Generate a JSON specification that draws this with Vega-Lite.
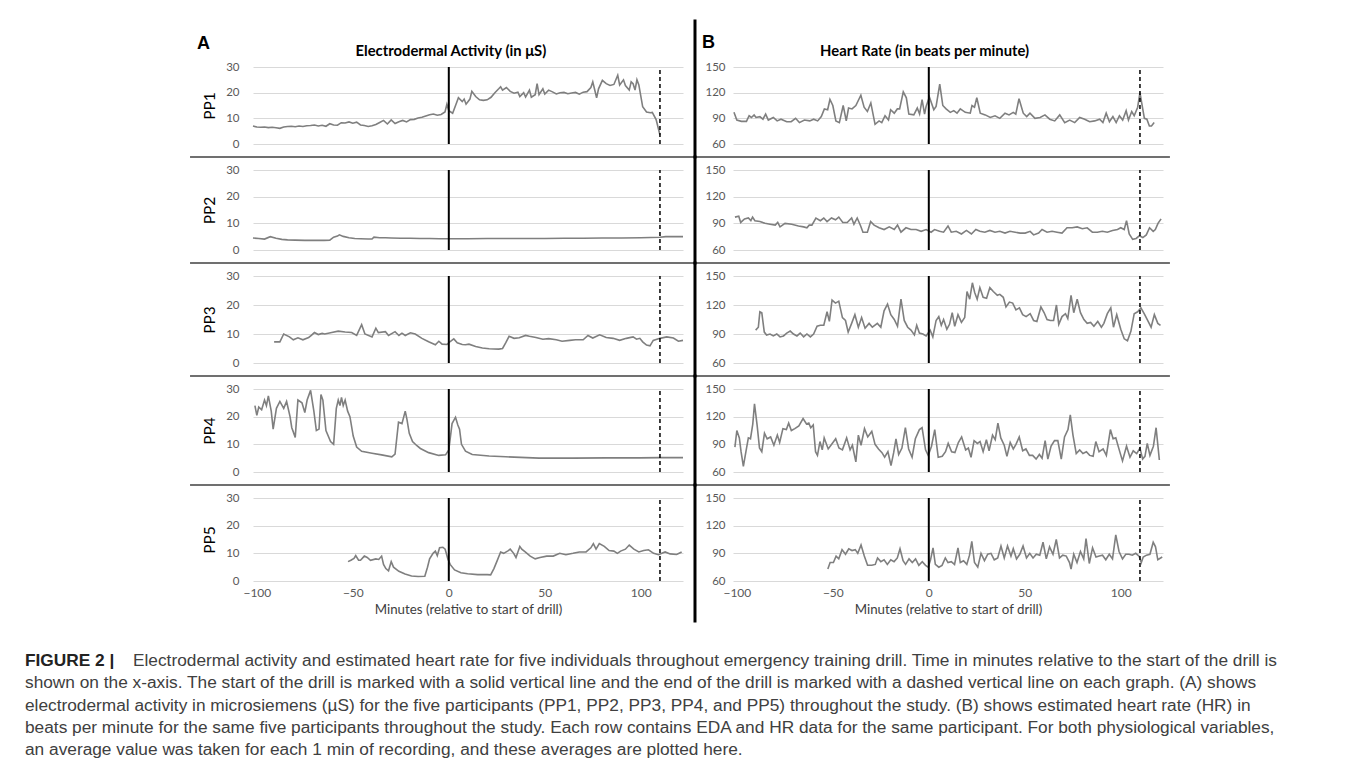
{
  "$schema": "https://vega.github.io/schema/vega-lite/v6.json",
  "autosize": {"type": "pad"},
  "padding": {"left": 25, "top": 18, "right": 5, "bottom": 5},
  "background": "white",
  "datasets": {
    "e1": [{"t":-102,"v":7.0},{"t":-100,"v":6.6},{"t":-98,"v":6.5},{"t":-96,"v":6.6},{"t":-94,"v":6.4},{"t":-92,"v":6.5},{"t":-90,"v":6.3},{"t":-88,"v":6.1},{"t":-86,"v":6.6},{"t":-84,"v":6.8},{"t":-82,"v":6.9},{"t":-80,"v":6.7},{"t":-78,"v":7.0},{"t":-76,"v":6.8},{"t":-74,"v":7.1},{"t":-72,"v":7.2},{"t":-70,"v":7.4},{"t":-68,"v":7.0},{"t":-66,"v":7.3},{"t":-64,"v":6.9},{"t":-62,"v":7.9},{"t":-60,"v":7.4},{"t":-58,"v":7.3},{"t":-56,"v":8.3},{"t":-54,"v":8.2},{"t":-52,"v":8.6},{"t":-50,"v":8.1},{"t":-48,"v":8.5},{"t":-46,"v":7.4},{"t":-44,"v":7.2},{"t":-42,"v":6.8},{"t":-40,"v":7.1},{"t":-38,"v":7.6},{"t":-36,"v":8.4},{"t":-34,"v":9.2},{"t":-32,"v":7.8},{"t":-30,"v":9.4},{"t":-28,"v":8.0},{"t":-26,"v":8.7},{"t":-24,"v":9.2},{"t":-22,"v":8.6},{"t":-20,"v":9.5},{"t":-18,"v":9.6},{"t":-16,"v":10.1},{"t":-14,"v":10.4},{"t":-12,"v":10.9},{"t":-10,"v":11.4},{"t":-8,"v":11.7},{"t":-6,"v":11.2},{"t":-4,"v":11.5},{"t":-2,"v":12.5},{"t":-1,"v":15.5},{"t":0,"v":13},{"t":2,"v":12},{"t":4,"v":16},{"t":5,"v":18},{"t":7,"v":16.5},{"t":8,"v":17.5},{"t":9,"v":15.5},{"t":11,"v":17.5},{"t":12,"v":20.5},{"t":14,"v":18.5},{"t":16,"v":17.2},{"t":18,"v":17.0},{"t":20,"v":17.2},{"t":22,"v":18.2},{"t":24,"v":20.0},{"t":26,"v":21.5},{"t":27,"v":22.3},{"t":28,"v":21.0},{"t":30,"v":22.0},{"t":32,"v":20.5},{"t":34,"v":19.8},{"t":36,"v":20.2},{"t":37,"v":18.5},{"t":39,"v":20.0},{"t":40,"v":18.3},{"t":42,"v":21.0},{"t":43,"v":18.2},{"t":45,"v":19.2},{"t":46,"v":23.5},{"t":47,"v":19.2},{"t":49,"v":21.5},{"t":50,"v":19.5},{"t":52,"v":21.0},{"t":54,"v":20.3},{"t":56,"v":19.5},{"t":58,"v":20.0},{"t":60,"v":20.1},{"t":62,"v":19.6},{"t":64,"v":19.9},{"t":66,"v":20.1},{"t":68,"v":19.4},{"t":70,"v":20.2},{"t":72,"v":20.4},{"t":74,"v":22.0},{"t":75,"v":24.2},{"t":77,"v":18.0},{"t":78,"v":21.5},{"t":80,"v":24.8},{"t":82,"v":23.5},{"t":84,"v":22.8},{"t":86,"v":23.2},{"t":88,"v":26.8},{"t":89,"v":23.0},{"t":91,"v":25.0},{"t":92,"v":22.8},{"t":94,"v":21.0},{"t":95,"v":24.2},{"t":96,"v":23.5},{"t":97,"v":21.0},{"t":98,"v":25.0},{"t":99,"v":23.0},{"t":101,"v":14.5},{"t":103,"v":12.5},{"t":105,"v":12.2},{"t":106,"v":12.3},{"t":108,"v":9.5},{"t":110,"v":3.5}],
    "e2": [{"t":-102,"v":4.5},{"t":-99,"v":4.3},{"t":-96,"v":4.1},{"t":-93,"v":5.0},{"t":-90,"v":4.4},{"t":-87,"v":4.0},{"t":-84,"v":3.8},{"t":-80,"v":3.7},{"t":-75,"v":3.6},{"t":-70,"v":3.6},{"t":-65,"v":3.6},{"t":-62,"v":3.7},{"t":-60,"v":4.8},{"t":-58,"v":5.2},{"t":-57,"v":5.7},{"t":-55,"v":5.1},{"t":-52,"v":4.6},{"t":-49,"v":4.3},{"t":-46,"v":4.2},{"t":-42,"v":4.1},{"t":-40,"v":4.1},{"t":-39,"v":4.8},{"t":-36,"v":4.6},{"t":-33,"v":4.6},{"t":-30,"v":4.5},{"t":-25,"v":4.4},{"t":-20,"v":4.4},{"t":-15,"v":4.3},{"t":-10,"v":4.3},{"t":-5,"v":4.2},{"t":0,"v":4.2},{"t":10,"v":4.2},{"t":20,"v":4.3},{"t":30,"v":4.3},{"t":40,"v":4.3},{"t":50,"v":4.3},{"t":60,"v":4.4},{"t":70,"v":4.4},{"t":80,"v":4.5},{"t":90,"v":4.5},{"t":100,"v":4.6},{"t":105,"v":4.7},{"t":110,"v":4.8},{"t":113,"v":5.0},{"t":118,"v":5.0},{"t":122,"v":5.0}],
    "e3": [{"t":-91,"v":7.3},{"t":-88,"v":7.3},{"t":-86,"v":10.0},{"t":-83,"v":9.0},{"t":-81,"v":8.0},{"t":-78.6,"v":8.7},{"t":-76,"v":8.0},{"t":-73,"v":8.8},{"t":-71.6,"v":9.5},{"t":-70,"v":10.5},{"t":-68,"v":9.8},{"t":-66,"v":10.2},{"t":-64.6,"v":10.0},{"t":-61,"v":10.5},{"t":-57.6,"v":11.0},{"t":-54,"v":10.7},{"t":-50.6,"v":10.5},{"t":-48,"v":9.5},{"t":-45.4,"v":13.2},{"t":-43.7,"v":10.0},{"t":-40,"v":9.0},{"t":-38,"v":12.0},{"t":-36.7,"v":10.5},{"t":-33,"v":10.8},{"t":-31.4,"v":9.5},{"t":-28,"v":10.8},{"t":-26,"v":9.5},{"t":-24.4,"v":10.3},{"t":-22.7,"v":9.5},{"t":-20,"v":10.4},{"t":-17.5,"v":10.0},{"t":-14,"v":8.5},{"t":-10.5,"v":7.3},{"t":-7,"v":6.3},{"t":-5.2,"v":7.5},{"t":-3.5,"v":6.5},{"t":-0.9,"v":6.4},{"t":0.9,"v":7.5},{"t":2.6,"v":8.3},{"t":4.4,"v":7.0},{"t":7,"v":6.4},{"t":8.7,"v":6.3},{"t":10.5,"v":6.5},{"t":14,"v":5.7},{"t":17.5,"v":5.2},{"t":21,"v":4.9},{"t":26,"v":4.8},{"t":28,"v":5.0},{"t":29.7,"v":7.0},{"t":31.4,"v":9.2},{"t":34,"v":8.5},{"t":36.7,"v":8.7},{"t":40,"v":9.5},{"t":42,"v":9.2},{"t":45.4,"v":8.8},{"t":49,"v":8.2},{"t":52,"v":8.4},{"t":56,"v":8.0},{"t":59,"v":7.5},{"t":63,"v":7.8},{"t":66,"v":8.0},{"t":70,"v":8.0},{"t":72.5,"v":9.5},{"t":75,"v":8.6},{"t":78.6,"v":9.7},{"t":82,"v":8.8},{"t":85.6,"v":8.5},{"t":89,"v":7.8},{"t":92.5,"v":8.5},{"t":96,"v":9.0},{"t":97.8,"v":8.2},{"t":99.5,"v":8.5},{"t":101,"v":7.3},{"t":103,"v":6.2},{"t":104.8,"v":5.9},{"t":106.5,"v":7.8},{"t":110,"v":8.5},{"t":113.5,"v":9.0},{"t":117,"v":8.6},{"t":119.6,"v":7.5},{"t":122,"v":7.8}],
    "e4": [{"t":-101,"v":24},{"t":-100,"v":20.5},{"t":-99,"v":23.5},{"t":-97.5,"v":22.5},{"t":-96,"v":26},{"t":-95,"v":24},{"t":-94,"v":27.5},{"t":-92.5,"v":22},{"t":-91.5,"v":15.5},{"t":-89.8,"v":23},{"t":-88,"v":25.5},{"t":-86,"v":23},{"t":-84.5,"v":25.5},{"t":-82.7,"v":20},{"t":-81.8,"v":16},{"t":-81,"v":14.5},{"t":-80,"v":12.5},{"t":-78.6,"v":26},{"t":-76.5,"v":25},{"t":-75,"v":21.5},{"t":-73.8,"v":26},{"t":-72,"v":29.5},{"t":-70.3,"v":22},{"t":-69,"v":15},{"t":-67.6,"v":15.5},{"t":-66.6,"v":28},{"t":-65.6,"v":26},{"t":-64,"v":15},{"t":-61.6,"v":11},{"t":-60,"v":10},{"t":-58.6,"v":23},{"t":-57.6,"v":26},{"t":-56.7,"v":24},{"t":-55.9,"v":27},{"t":-55,"v":24},{"t":-54,"v":26},{"t":-52.7,"v":22},{"t":-51.5,"v":20},{"t":-49.8,"v":13},{"t":-48,"v":9},{"t":-45.4,"v":7.5},{"t":-40,"v":6.8},{"t":-35,"v":6.2},{"t":-29.7,"v":5.5},{"t":-28,"v":6.5},{"t":-26.2,"v":18},{"t":-24.4,"v":17.5},{"t":-22.7,"v":22},{"t":-21.8,"v":19},{"t":-20.6,"v":14},{"t":-18.9,"v":11},{"t":-16.6,"v":9.5},{"t":-14.8,"v":8.5},{"t":-10.5,"v":7},{"t":-5.2,"v":6},{"t":-1.7,"v":6.2},{"t":0,"v":8},{"t":1.7,"v":17.5},{"t":3.5,"v":19.8},{"t":4.7,"v":17},{"t":5.6,"v":15.5},{"t":6.6,"v":10},{"t":8.7,"v":7.5},{"t":12.2,"v":6.3},{"t":21,"v":5.8},{"t":29.7,"v":5.5},{"t":47,"v":5.0},{"t":64.6,"v":5.0},{"t":82,"v":5.1},{"t":99.5,"v":5.1},{"t":110,"v":5.2},{"t":122,"v":5.2}],
    "e5": [{"t":-52.5,"v":7.0},{"t":-51,"v":7.5},{"t":-49.4,"v":8.2},{"t":-48.5,"v":9.2},{"t":-47,"v":7.5},{"t":-46,"v":7.5},{"t":-44,"v":9.0},{"t":-42.5,"v":8.5},{"t":-40.8,"v":7.5},{"t":-38,"v":8.0},{"t":-36.5,"v":7.8},{"t":-35,"v":9.0},{"t":-34,"v":6.0},{"t":-32.8,"v":4.5},{"t":-31.4,"v":3.7},{"t":-30,"v":7.0},{"t":-28.8,"v":5.0},{"t":-26,"v":3.5},{"t":-22.8,"v":2.5},{"t":-19.4,"v":1.8},{"t":-16,"v":1.6},{"t":-12.5,"v":1.7},{"t":-11.1,"v":5.0},{"t":-10,"v":8.0},{"t":-8.2,"v":10.0},{"t":-7,"v":10.8},{"t":-6,"v":9.2},{"t":-4.8,"v":12.0},{"t":-3.1,"v":12.2},{"t":-1.9,"v":11.5},{"t":-0.5,"v":8.0},{"t":0.7,"v":6.0},{"t":3,"v":4.0},{"t":6.3,"v":3.0},{"t":9.8,"v":2.6},{"t":15,"v":2.3},{"t":20,"v":2.3},{"t":21.8,"v":2.2},{"t":23.5,"v":4.5},{"t":25,"v":7.0},{"t":27,"v":10.5},{"t":28.6,"v":10.0},{"t":31,"v":11.0},{"t":32,"v":11.5},{"t":33.8,"v":10.0},{"t":35,"v":8.5},{"t":37,"v":12.5},{"t":38,"v":11.5},{"t":39.8,"v":10.5},{"t":42.4,"v":9.0},{"t":45,"v":8.0},{"t":47.5,"v":8.5},{"t":51,"v":9.0},{"t":54.4,"v":9.0},{"t":57.8,"v":10.0},{"t":61,"v":9.5},{"t":64.7,"v":10.0},{"t":68,"v":10.5},{"t":71.5,"v":10.5},{"t":74,"v":12.0},{"t":75.3,"v":13.5},{"t":76.7,"v":11.5},{"t":78.4,"v":13.5},{"t":81,"v":12.5},{"t":83.5,"v":11.0},{"t":86,"v":10.8},{"t":87.8,"v":10.0},{"t":89.5,"v":10.8},{"t":92,"v":11.5},{"t":94,"v":13.0},{"t":96.4,"v":11.5},{"t":99,"v":10.5},{"t":101.5,"v":11.0},{"t":104,"v":11.3},{"t":106.7,"v":10.0},{"t":109.3,"v":9.5},{"t":111,"v":10.0},{"t":112.7,"v":10.5},{"t":115.3,"v":9.8},{"t":118.7,"v":9.6},{"t":121.3,"v":10.5}],
    "h1": [{"t":-101.5,"v":97},{"t":-100,"v":88},{"t":-97.6,"v":86.5},{"t":-95,"v":86.5},{"t":-93.6,"v":93},{"t":-92.4,"v":91},{"t":-91,"v":94},{"t":-90,"v":91},{"t":-88,"v":92},{"t":-86.4,"v":89},{"t":-85,"v":95},{"t":-83.6,"v":88},{"t":-81,"v":91},{"t":-79,"v":87},{"t":-77,"v":89},{"t":-74,"v":86},{"t":-71.7,"v":86},{"t":-69.4,"v":90},{"t":-67.4,"v":85},{"t":-64.8,"v":88},{"t":-62,"v":87},{"t":-60,"v":89},{"t":-57.9,"v":87},{"t":-56,"v":92},{"t":-54.4,"v":101},{"t":-52.7,"v":100},{"t":-51.5,"v":112},{"t":-50,"v":105},{"t":-48.4,"v":87},{"t":-46.6,"v":85},{"t":-44.6,"v":105},{"t":-43,"v":87},{"t":-41.8,"v":102},{"t":-40,"v":101},{"t":-38,"v":105},{"t":-35.4,"v":117},{"t":-33.7,"v":103},{"t":-32,"v":98},{"t":-30.2,"v":108},{"t":-28,"v":83},{"t":-25.9,"v":87},{"t":-24.5,"v":85},{"t":-22.8,"v":93},{"t":-21,"v":88},{"t":-19.9,"v":100},{"t":-18,"v":96},{"t":-16.4,"v":101},{"t":-15.2,"v":101},{"t":-13.3,"v":121},{"t":-11.7,"v":114},{"t":-10.4,"v":95},{"t":-7.8,"v":94},{"t":-6,"v":102},{"t":-4.8,"v":95},{"t":-3.5,"v":112},{"t":-2.2,"v":95},{"t":-1.4,"v":104},{"t":0.3,"v":115},{"t":2.6,"v":100},{"t":3.8,"v":104},{"t":5.7,"v":130},{"t":7.3,"v":105},{"t":9,"v":101},{"t":11.2,"v":97},{"t":13,"v":99},{"t":14.7,"v":96},{"t":16.4,"v":101},{"t":19,"v":97},{"t":21.6,"v":96},{"t":22.5,"v":105},{"t":23.8,"v":103},{"t":25,"v":114},{"t":26.8,"v":96},{"t":29.4,"v":94},{"t":32,"v":91},{"t":34.5,"v":93},{"t":37,"v":90},{"t":39.7,"v":96},{"t":41.8,"v":94},{"t":44,"v":97},{"t":45.3,"v":95},{"t":47,"v":113},{"t":49.2,"v":96},{"t":51,"v":92},{"t":52.7,"v":96},{"t":55.3,"v":90},{"t":58,"v":91},{"t":60.5,"v":94},{"t":63,"v":89},{"t":65.6,"v":87},{"t":68.2,"v":94},{"t":70.8,"v":85},{"t":73.4,"v":88},{"t":76,"v":85},{"t":78.6,"v":91},{"t":81.2,"v":89},{"t":83.8,"v":86},{"t":86.4,"v":87},{"t":89,"v":89},{"t":90.7,"v":85},{"t":92.4,"v":96},{"t":94.1,"v":86},{"t":95.9,"v":92},{"t":97.6,"v":85},{"t":99.3,"v":93},{"t":101,"v":88},{"t":102.8,"v":99},{"t":104,"v":88},{"t":105.7,"v":98},{"t":107,"v":93},{"t":108.8,"v":103},{"t":110,"v":120},{"t":110.9,"v":108},{"t":112.3,"v":90},{"t":113.6,"v":89},{"t":114.9,"v":81},{"t":116,"v":81},{"t":117.4,"v":85}],
    "h2": [{"t":-101,"v":97},{"t":-99,"v":98},{"t":-98,"v":91},{"t":-96,"v":95},{"t":-94,"v":96},{"t":-92.7,"v":93},{"t":-91.8,"v":97},{"t":-90.6,"v":93},{"t":-88,"v":92},{"t":-85.3,"v":90},{"t":-82.7,"v":89},{"t":-80,"v":88},{"t":-78.7,"v":91},{"t":-77.5,"v":86},{"t":-74.9,"v":90},{"t":-71.4,"v":89},{"t":-67.9,"v":87},{"t":-65.2,"v":86},{"t":-63.5,"v":85},{"t":-62.3,"v":88},{"t":-60.9,"v":88},{"t":-58.8,"v":96},{"t":-56.5,"v":93},{"t":-54.7,"v":96},{"t":-53,"v":92},{"t":-50.7,"v":96},{"t":-48.6,"v":94},{"t":-46.9,"v":97},{"t":-44.8,"v":91},{"t":-42.5,"v":91},{"t":-40.2,"v":96},{"t":-39,"v":89},{"t":-37.3,"v":96},{"t":-35.5,"v":87},{"t":-34.3,"v":80},{"t":-32,"v":80},{"t":-30.3,"v":92},{"t":-28.5,"v":88},{"t":-25.9,"v":85},{"t":-23.3,"v":83},{"t":-20.6,"v":86},{"t":-18,"v":83},{"t":-16.3,"v":88},{"t":-14.5,"v":80},{"t":-11.9,"v":85},{"t":-9.3,"v":83},{"t":-6.6,"v":83},{"t":-4,"v":81},{"t":-1.4,"v":83},{"t":1.2,"v":80},{"t":3,"v":83},{"t":5.6,"v":81},{"t":7.7,"v":80},{"t":10,"v":87},{"t":11.7,"v":80},{"t":14.3,"v":81},{"t":17,"v":78},{"t":19.6,"v":82},{"t":22.2,"v":78},{"t":24.5,"v":83},{"t":26.6,"v":81},{"t":29.2,"v":80},{"t":31.8,"v":82},{"t":34.5,"v":80},{"t":37,"v":81},{"t":39.7,"v":79},{"t":42.3,"v":81},{"t":45,"v":80},{"t":47.6,"v":79},{"t":50.2,"v":79},{"t":52.8,"v":81},{"t":54.6,"v":77},{"t":57.2,"v":79},{"t":59,"v":83},{"t":61.6,"v":80},{"t":64.2,"v":81},{"t":66.8,"v":80},{"t":69.4,"v":79},{"t":72,"v":85},{"t":74.7,"v":85},{"t":77.3,"v":86},{"t":80,"v":84},{"t":82.5,"v":85},{"t":85.2,"v":80},{"t":87.8,"v":80},{"t":90.4,"v":81},{"t":93,"v":80},{"t":95.7,"v":82},{"t":98.3,"v":83},{"t":100,"v":85},{"t":101.8,"v":83},{"t":103,"v":93},{"t":104.4,"v":78},{"t":106.2,"v":72},{"t":108,"v":73},{"t":109.7,"v":76},{"t":111.5,"v":74},{"t":113.3,"v":77},{"t":115,"v":85},{"t":116.9,"v":81},{"t":118,"v":83},{"t":119.4,"v":90},{"t":121,"v":95}],
    "h3": [{"t":-90.2,"v":94},{"t":-88.8,"v":97},{"t":-88,"v":113},{"t":-87,"v":112},{"t":-85.7,"v":92},{"t":-84.5,"v":89},{"t":-82.7,"v":90},{"t":-81,"v":88},{"t":-79.2,"v":90},{"t":-77.5,"v":87},{"t":-75.7,"v":88},{"t":-74,"v":91},{"t":-72.2,"v":93},{"t":-70.5,"v":90},{"t":-68.7,"v":88},{"t":-67,"v":91},{"t":-65.2,"v":87},{"t":-63.5,"v":90},{"t":-61.7,"v":87},{"t":-60,"v":90},{"t":-58.2,"v":98},{"t":-56.5,"v":99},{"t":-54.7,"v":99},{"t":-53,"v":113},{"t":-51.8,"v":103},{"t":-50.4,"v":125},{"t":-48.6,"v":122},{"t":-46.9,"v":124},{"t":-45,"v":107},{"t":-43.4,"v":104},{"t":-42,"v":92},{"t":-40.2,"v":101},{"t":-38.5,"v":110},{"t":-36.7,"v":97},{"t":-35,"v":107},{"t":-33.2,"v":96},{"t":-31.1,"v":101},{"t":-29.4,"v":97},{"t":-26.8,"v":101},{"t":-25,"v":97},{"t":-23.3,"v":114},{"t":-21.5,"v":121},{"t":-19.8,"v":110},{"t":-18,"v":105},{"t":-16.3,"v":98},{"t":-14.5,"v":126},{"t":-12.8,"v":104},{"t":-11,"v":97},{"t":-9.3,"v":94},{"t":-7.5,"v":89},{"t":-6.3,"v":99},{"t":-4.9,"v":91},{"t":-3.1,"v":90},{"t":-1.4,"v":88},{"t":0.7,"v":94},{"t":2.1,"v":87},{"t":3.8,"v":104},{"t":5.2,"v":108},{"t":6.5,"v":99},{"t":7.7,"v":105},{"t":9.4,"v":95},{"t":10.8,"v":100},{"t":12.2,"v":112},{"t":13.5,"v":98},{"t":15.2,"v":110},{"t":17,"v":102},{"t":18.7,"v":107},{"t":19.9,"v":134},{"t":21.3,"v":126},{"t":22.7,"v":143},{"t":23.9,"v":133},{"t":25.2,"v":126},{"t":26.6,"v":138},{"t":28.3,"v":128},{"t":30.1,"v":127},{"t":31.8,"v":138},{"t":33.6,"v":134},{"t":35.7,"v":130},{"t":37,"v":131},{"t":38.8,"v":128},{"t":40.2,"v":118},{"t":42,"v":123},{"t":43.7,"v":122},{"t":45.4,"v":115},{"t":47.2,"v":117},{"t":48.9,"v":110},{"t":50.7,"v":108},{"t":52.8,"v":111},{"t":54.6,"v":104},{"t":56.3,"v":103},{"t":58.4,"v":118},{"t":60.1,"v":112},{"t":61.6,"v":105},{"t":63.3,"v":104},{"t":65,"v":104},{"t":66.5,"v":120},{"t":67.7,"v":100},{"t":69.4,"v":108},{"t":71.2,"v":111},{"t":72.4,"v":106},{"t":74.1,"v":130},{"t":75.5,"v":112},{"t":77.3,"v":126},{"t":79,"v":112},{"t":80.8,"v":105},{"t":82.5,"v":101},{"t":84.3,"v":102},{"t":86,"v":98},{"t":88,"v":103},{"t":89.9,"v":97},{"t":91.2,"v":101},{"t":93,"v":111},{"t":94.8,"v":117},{"t":96.2,"v":97},{"t":97.9,"v":110},{"t":100,"v":95},{"t":101.8,"v":85},{"t":103.5,"v":83},{"t":105.3,"v":93},{"t":107,"v":111},{"t":108.8,"v":113},{"t":110.5,"v":117},{"t":112.2,"v":111},{"t":114,"v":104},{"t":115.8,"v":97},{"t":117.5,"v":110},{"t":119.3,"v":101},{"t":120.7,"v":99}],
    "h4": [{"t":-101,"v":87},{"t":-100,"v":105},{"t":-98.7,"v":97},{"t":-97.8,"v":82},{"t":-96.6,"v":66},{"t":-95.2,"v":83},{"t":-94,"v":97},{"t":-92.9,"v":96},{"t":-91.7,"v":112},{"t":-90.8,"v":134},{"t":-89.4,"v":110},{"t":-88.2,"v":86},{"t":-87,"v":82},{"t":-85.6,"v":102},{"t":-84.2,"v":96},{"t":-82.4,"v":98},{"t":-80.7,"v":89},{"t":-78.9,"v":100},{"t":-77.7,"v":92},{"t":-76,"v":107},{"t":-74.2,"v":106},{"t":-73,"v":113},{"t":-71.6,"v":105},{"t":-69.8,"v":107},{"t":-67.7,"v":110},{"t":-65.5,"v":118},{"t":-63.7,"v":112},{"t":-62.5,"v":113},{"t":-61.5,"v":108},{"t":-60.2,"v":111},{"t":-59,"v":82},{"t":-58,"v":78},{"t":-56.7,"v":93},{"t":-55.5,"v":84},{"t":-54.5,"v":97},{"t":-52.4,"v":85},{"t":-50.6,"v":90},{"t":-48.5,"v":96},{"t":-46.8,"v":86},{"t":-45,"v":84},{"t":-42.8,"v":97},{"t":-41,"v":84},{"t":-39.8,"v":89},{"t":-38,"v":71},{"t":-36.7,"v":100},{"t":-35.3,"v":89},{"t":-33.5,"v":107},{"t":-31.8,"v":98},{"t":-29.7,"v":104},{"t":-28,"v":90},{"t":-26.2,"v":85},{"t":-24.4,"v":81},{"t":-23,"v":76},{"t":-21.3,"v":82},{"t":-19.7,"v":67},{"t":-18.3,"v":81},{"t":-17.1,"v":96},{"t":-15.7,"v":79},{"t":-14,"v":86},{"t":-12.2,"v":108},{"t":-10.5,"v":85},{"t":-8.7,"v":76},{"t":-7,"v":96},{"t":-4.9,"v":106},{"t":-3.5,"v":108},{"t":-1.7,"v":84},{"t":-0.3,"v":78},{"t":1.4,"v":88},{"t":3.1,"v":106},{"t":4.9,"v":76},{"t":7,"v":77},{"t":8.7,"v":82},{"t":10.1,"v":91},{"t":11.9,"v":82},{"t":13.6,"v":81},{"t":15.4,"v":92},{"t":17.1,"v":98},{"t":19.2,"v":84},{"t":20.6,"v":86},{"t":22,"v":76},{"t":23.6,"v":94},{"t":25.3,"v":91},{"t":26.7,"v":93},{"t":28.3,"v":82},{"t":30,"v":95},{"t":31.4,"v":83},{"t":33.2,"v":100},{"t":34.6,"v":95},{"t":36,"v":113},{"t":37.5,"v":97},{"t":39.3,"v":89},{"t":40.7,"v":77},{"t":42.4,"v":92},{"t":44,"v":85},{"t":45.4,"v":90},{"t":47.1,"v":98},{"t":48.9,"v":83},{"t":50.6,"v":85},{"t":52.4,"v":78},{"t":54.1,"v":78},{"t":55.9,"v":74},{"t":57.6,"v":79},{"t":59,"v":75},{"t":60.6,"v":94},{"t":62,"v":74},{"t":63.7,"v":88},{"t":65.5,"v":94},{"t":67.2,"v":94},{"t":69,"v":74},{"t":70.7,"v":98},{"t":72.5,"v":106},{"t":73.7,"v":122},{"t":75.1,"v":100},{"t":76.8,"v":80},{"t":78.6,"v":84},{"t":80.3,"v":80},{"t":82.1,"v":82},{"t":83.8,"v":78},{"t":85.6,"v":77},{"t":87,"v":93},{"t":88.7,"v":82},{"t":90.8,"v":85},{"t":92.5,"v":78},{"t":94.6,"v":106},{"t":96,"v":96},{"t":97.4,"v":97},{"t":99.2,"v":84},{"t":100.9,"v":72},{"t":103,"v":88},{"t":104.8,"v":76},{"t":106.5,"v":83},{"t":108.3,"v":80},{"t":110,"v":86},{"t":111.4,"v":74},{"t":112.6,"v":77},{"t":113.8,"v":91},{"t":115.2,"v":78},{"t":117,"v":88},{"t":118.4,"v":108},{"t":120.1,"v":73}],
    "h5": [{"t":-52.6,"v":73},{"t":-51.4,"v":80},{"t":-49.7,"v":80},{"t":-48.3,"v":87},{"t":-46.9,"v":84},{"t":-45.2,"v":94},{"t":-43.4,"v":89},{"t":-41.7,"v":95},{"t":-40,"v":93},{"t":-38.3,"v":94},{"t":-37,"v":90},{"t":-35.3,"v":99},{"t":-33.6,"v":87},{"t":-31.9,"v":77},{"t":-29.7,"v":77},{"t":-27.9,"v":78},{"t":-26.7,"v":85},{"t":-25,"v":81},{"t":-23.3,"v":83},{"t":-21.6,"v":78},{"t":-19.8,"v":83},{"t":-18.1,"v":81},{"t":-16.4,"v":85},{"t":-15,"v":95},{"t":-13.4,"v":82},{"t":-12.1,"v":78},{"t":-10.3,"v":84},{"t":-8.6,"v":80},{"t":-6.9,"v":84},{"t":-5.2,"v":77},{"t":-3.4,"v":81},{"t":-1.7,"v":77},{"t":-0.3,"v":75},{"t":0.9,"v":83},{"t":2.2,"v":96},{"t":3.4,"v":78},{"t":5.2,"v":75},{"t":6.9,"v":77},{"t":8.6,"v":85},{"t":10,"v":80},{"t":11.7,"v":81},{"t":13.4,"v":78},{"t":15.2,"v":96},{"t":16.4,"v":80},{"t":18.1,"v":82},{"t":19.8,"v":78},{"t":21.2,"v":88},{"t":22.4,"v":103},{"t":23.8,"v":80},{"t":25.5,"v":75},{"t":27.2,"v":90},{"t":29,"v":82},{"t":30.7,"v":89},{"t":32.4,"v":90},{"t":34.1,"v":83},{"t":35.9,"v":85},{"t":37.6,"v":98},{"t":39.3,"v":85},{"t":41,"v":98},{"t":42.8,"v":87},{"t":44,"v":95},{"t":45.7,"v":84},{"t":47.4,"v":89},{"t":49.1,"v":98},{"t":50.9,"v":85},{"t":52.6,"v":90},{"t":54.3,"v":85},{"t":56,"v":89},{"t":57.8,"v":88},{"t":59.5,"v":102},{"t":61.2,"v":84},{"t":62.9,"v":97},{"t":64.7,"v":89},{"t":66.4,"v":105},{"t":68.1,"v":85},{"t":69.8,"v":88},{"t":71.6,"v":87},{"t":73.3,"v":80},{"t":74.1,"v":73},{"t":75.5,"v":89},{"t":77.2,"v":80},{"t":79,"v":92},{"t":80.7,"v":84},{"t":81.9,"v":106},{"t":83.6,"v":79},{"t":85.3,"v":96},{"t":87.1,"v":86},{"t":88.8,"v":87},{"t":90.5,"v":88},{"t":92.2,"v":83},{"t":94,"v":89},{"t":95.7,"v":84},{"t":97.4,"v":110},{"t":99.1,"v":92},{"t":100.9,"v":84},{"t":102.6,"v":89},{"t":104.3,"v":89},{"t":106,"v":88},{"t":107.8,"v":90},{"t":109.5,"v":87},{"t":110.7,"v":80},{"t":111.7,"v":86},{"t":113.4,"v":88},{"t":115.2,"v":89},{"t":116.9,"v":102},{"t":118.1,"v":97},{"t":119.3,"v":83},{"t":121.6,"v":86}],
    "caption": [
      {"line": 1, "part": "head", "text": "FIGURE 2 |"},
      {"line": 1, "part": "rest", "text": "Electrodermal activity and estimated heart rate for five individuals throughout emergency training drill. Time in minutes relative to the start of the drill is"},
      {"line": 2, "part": "body", "text": "shown on the x-axis. The start of the drill is marked with a solid vertical line and the end of the drill is marked with a dashed vertical line on each graph. (A) shows"},
      {"line": 3, "part": "body", "text": "electrodermal activity in microsiemens (µS) for the five participants (PP1, PP2, PP3, PP4, and PP5) throughout the study. (B) shows estimated heart rate (HR) in"},
      {"line": 4, "part": "body", "text": "beats per minute for the same five participants throughout the study. Each row contains EDA and HR data for the same participant. For both physiological variables,"},
      {"line": 5, "part": "body", "text": "an average value was taken for each 1 min of recording, and these averages are plotted here."}
    ]
  },
  "columns": 2,
  "bounds": "flush",
  "spacing": {"row": 26, "column": 50},
  "concat": [
    {
      "width": 430, "height": 77,
      "resolve": {"axis": {"x": "independent", "y": "independent"}},
      "layer": [
        {"data": {"name": "e1"}, "mark": {"type": "line", "color": "#7f7f7f", "strokeWidth": 1.6},
         "encoding": {"x": {"field": "t", "type": "quantitative", "scale": {"domain": [-102, 122], "nice": false, "zero": false}, "axis": null},
                      "y": {"field": "v", "type": "quantitative", "scale": {"domain": [0, 30], "nice": false, "zero": false}, "axis": {"values": [0, 10, 20, 30], "grid": true, "labelPadding": 14, "title": "PP1", "titleFontSize": 15.5, "titleFontWeight": "normal", "titleColor": "#000", "titlePadding": 8}}}},
        {"data": {"values": [{}]}, "mark": {"type": "rule", "color": "#000", "strokeWidth": 2},
         "encoding": {"x": {"datum": 0, "type": "quantitative", "axis": null}, "y": {"datum": 0, "type": "quantitative", "axis": null}, "y2": {"datum": 30}}},
        {"data": {"values": [{}]}, "mark": {"type": "rule", "color": "#000", "strokeWidth": 1.5, "strokeDash": [4, 3]},
         "encoding": {"x": {"datum": 110, "type": "quantitative", "axis": null}, "y": {"datum": 0, "type": "quantitative", "axis": null}, "y2": {"datum": 30}}},
        {"data": {"values": [{}]}, "mark": {"type": "rule", "color": "#707070", "strokeWidth": 2},
         "encoding": {"x": {"datum": -134.8, "type": "quantitative", "axis": null}, "x2": {"datum": 128.3}, "y": {"datum": -5.065, "type": "quantitative", "axis": null}}},
        {"data": {"values": [{}]}, "mark": {"type": "text", "text": "A", "align": "left", "baseline": "alphabetic", "font": "Liberation Sans", "fontSize": 18, "fontWeight": "bold", "color": "#000"},
         "encoding": {"x": {"datum": -131.2, "type": "quantitative", "axis": null}, "y": {"datum": 37.2, "type": "quantitative", "axis": null}}},
        {"data": {"values": [{}]}, "mark": {"type": "text", "text": "Electrodermal Activity (in μS)", "align": "center", "baseline": "alphabetic", "font": "Lato", "fontSize": 14.8, "fontWeight": "bold", "color": "#000"},
         "encoding": {"x": {"datum": 1.1, "type": "quantitative", "axis": null}, "y": {"datum": 34.3, "type": "quantitative", "axis": null}}}
      ]
    },
    {
      "width": 430, "height": 77,
      "resolve": {"axis": {"x": "independent", "y": "independent"}},
      "layer": [
        {"data": {"name": "h1"}, "mark": {"type": "line", "color": "#7f7f7f", "strokeWidth": 1.6},
         "encoding": {"x": {"field": "t", "type": "quantitative", "scale": {"domain": [-102, 122], "nice": false, "zero": false}, "axis": null},
                      "y": {"field": "v", "type": "quantitative", "scale": {"domain": [60, 150], "nice": false, "zero": false}, "axis": {"values": [60, 90, 120, 150], "grid": true, "labelPadding": 8, "title": null}}}},
        {"data": {"values": [{}]}, "mark": {"type": "rule", "color": "#000", "strokeWidth": 2},
         "encoding": {"x": {"datum": 0, "type": "quantitative", "axis": null}, "y": {"datum": 60, "type": "quantitative", "axis": null}, "y2": {"datum": 150}}},
        {"data": {"values": [{}]}, "mark": {"type": "rule", "color": "#000", "strokeWidth": 1.5, "strokeDash": [4, 3]},
         "encoding": {"x": {"datum": 110, "type": "quantitative", "axis": null}, "y": {"datum": 60, "type": "quantitative", "axis": null}, "y2": {"datum": 150}}},
        {"data": {"values": [{}]}, "mark": {"type": "rule", "color": "#707070", "strokeWidth": 2},
         "encoding": {"x": {"datum": -121.8, "type": "quantitative", "axis": null}, "x2": {"datum": 125.6}, "y": {"datum": 44.805, "type": "quantitative", "axis": null}}},
        {"data": {"values": [{}]}, "mark": {"type": "rule", "color": "#000", "strokeWidth": 3, "strokeCap": "square"},
         "encoding": {"x": {"datum": -121.8, "type": "quantitative", "axis": null}, "y": {"datum": 203.77, "type": "quantitative", "axis": null}, "y2": {"datum": 44.805}}},
        {"data": {"values": [{}]}, "mark": {"type": "text", "text": "B", "align": "left", "baseline": "alphabetic", "font": "Liberation Sans", "fontSize": 18, "fontWeight": "bold", "color": "#000"},
         "encoding": {"x": {"datum": -118.2, "type": "quantitative", "axis": null}, "y": {"datum": 172.2, "type": "quantitative", "axis": null}}},
        {"data": {"values": [{}]}, "mark": {"type": "text", "text": "Heart Rate (in beats per minute)", "align": "center", "baseline": "alphabetic", "font": "Lato", "fontSize": 14.8, "fontWeight": "bold", "color": "#000"},
         "encoding": {"x": {"datum": -2.2, "type": "quantitative", "axis": null}, "y": {"datum": 162.9, "type": "quantitative", "axis": null}}}
      ]
    },
    {
      "width": 430, "height": 80,
      "resolve": {"axis": {"x": "independent", "y": "independent"}},
      "layer": [
        {"data": {"name": "e2"}, "mark": {"type": "line", "color": "#7f7f7f", "strokeWidth": 1.6},
         "encoding": {"x": {"field": "t", "type": "quantitative", "scale": {"domain": [-102, 122], "nice": false, "zero": false}, "axis": null},
                      "y": {"field": "v", "type": "quantitative", "scale": {"domain": [0, 30], "nice": false, "zero": false}, "axis": {"values": [0, 10, 20, 30], "grid": true, "labelPadding": 14, "title": "PP2", "titleFontSize": 15.5, "titleFontWeight": "normal", "titleColor": "#000", "titlePadding": 8}}}},
        {"data": {"values": [{}]}, "mark": {"type": "rule", "color": "#000", "strokeWidth": 2},
         "encoding": {"x": {"datum": 0, "type": "quantitative", "axis": null}, "y": {"datum": 0, "type": "quantitative", "axis": null}, "y2": {"datum": 30}}},
        {"data": {"values": [{}]}, "mark": {"type": "rule", "color": "#000", "strokeWidth": 1.5, "strokeDash": [4, 3]},
         "encoding": {"x": {"datum": 110, "type": "quantitative", "axis": null}, "y": {"datum": 0, "type": "quantitative", "axis": null}, "y2": {"datum": 30}}},
        {"data": {"values": [{}]}, "mark": {"type": "rule", "color": "#707070", "strokeWidth": 2},
         "encoding": {"x": {"datum": -134.8, "type": "quantitative", "axis": null}, "x2": {"datum": 128.3}, "y": {"datum": -4.875, "type": "quantitative", "axis": null}}}
      ]
    },
    {
      "width": 430, "height": 80,
      "resolve": {"axis": {"x": "independent", "y": "independent"}},
      "layer": [
        {"data": {"name": "h2"}, "mark": {"type": "line", "color": "#7f7f7f", "strokeWidth": 1.6},
         "encoding": {"x": {"field": "t", "type": "quantitative", "scale": {"domain": [-102, 122], "nice": false, "zero": false}, "axis": null},
                      "y": {"field": "v", "type": "quantitative", "scale": {"domain": [60, 150], "nice": false, "zero": false}, "axis": {"values": [60, 90, 120, 150], "grid": true, "labelPadding": 8, "title": null}}}},
        {"data": {"values": [{}]}, "mark": {"type": "rule", "color": "#000", "strokeWidth": 2},
         "encoding": {"x": {"datum": 0, "type": "quantitative", "axis": null}, "y": {"datum": 60, "type": "quantitative", "axis": null}, "y2": {"datum": 150}}},
        {"data": {"values": [{}]}, "mark": {"type": "rule", "color": "#000", "strokeWidth": 1.5, "strokeDash": [4, 3]},
         "encoding": {"x": {"datum": 110, "type": "quantitative", "axis": null}, "y": {"datum": 60, "type": "quantitative", "axis": null}, "y2": {"datum": 150}}},
        {"data": {"values": [{}]}, "mark": {"type": "rule", "color": "#707070", "strokeWidth": 2},
         "encoding": {"x": {"datum": -121.8, "type": "quantitative", "axis": null}, "x2": {"datum": 125.6}, "y": {"datum": 45.375, "type": "quantitative", "axis": null}}},
        {"data": {"values": [{}]}, "mark": {"type": "rule", "color": "#000", "strokeWidth": 3, "strokeCap": "square"},
         "encoding": {"x": {"datum": -121.8, "type": "quantitative", "axis": null}, "y": {"datum": 164.625, "type": "quantitative", "axis": null}, "y2": {"datum": 45.375}}}
      ]
    },
    {
      "width": 430, "height": 87,
      "resolve": {"axis": {"x": "independent", "y": "independent"}},
      "layer": [
        {"data": {"name": "e3"}, "mark": {"type": "line", "color": "#7f7f7f", "strokeWidth": 1.6},
         "encoding": {"x": {"field": "t", "type": "quantitative", "scale": {"domain": [-102, 122], "nice": false, "zero": false}, "axis": null},
                      "y": {"field": "v", "type": "quantitative", "scale": {"domain": [0, 30], "nice": false, "zero": false}, "axis": {"values": [0, 10, 20, 30], "grid": true, "labelPadding": 14, "title": "PP3", "titleFontSize": 15.5, "titleFontWeight": "normal", "titleColor": "#000", "titlePadding": 8}}}},
        {"data": {"values": [{}]}, "mark": {"type": "rule", "color": "#000", "strokeWidth": 2},
         "encoding": {"x": {"datum": 0, "type": "quantitative", "axis": null}, "y": {"datum": 0, "type": "quantitative", "axis": null}, "y2": {"datum": 30}}},
        {"data": {"values": [{}]}, "mark": {"type": "rule", "color": "#000", "strokeWidth": 1.5, "strokeDash": [4, 3]},
         "encoding": {"x": {"datum": 110, "type": "quantitative", "axis": null}, "y": {"datum": 0, "type": "quantitative", "axis": null}, "y2": {"datum": 30}}},
        {"data": {"values": [{}]}, "mark": {"type": "rule", "color": "#707070", "strokeWidth": 2},
         "encoding": {"x": {"datum": -134.8, "type": "quantitative", "axis": null}, "x2": {"datum": 128.3}, "y": {"datum": -4.483, "type": "quantitative", "axis": null}}}
      ]
    },
    {
      "width": 430, "height": 87,
      "resolve": {"axis": {"x": "independent", "y": "independent"}},
      "layer": [
        {"data": {"name": "h3"}, "mark": {"type": "line", "color": "#7f7f7f", "strokeWidth": 1.6},
         "encoding": {"x": {"field": "t", "type": "quantitative", "scale": {"domain": [-102, 122], "nice": false, "zero": false}, "axis": null},
                      "y": {"field": "v", "type": "quantitative", "scale": {"domain": [60, 150], "nice": false, "zero": false}, "axis": {"values": [60, 90, 120, 150], "grid": true, "labelPadding": 8, "title": null}}}},
        {"data": {"values": [{}]}, "mark": {"type": "rule", "color": "#000", "strokeWidth": 2},
         "encoding": {"x": {"datum": 0, "type": "quantitative", "axis": null}, "y": {"datum": 60, "type": "quantitative", "axis": null}, "y2": {"datum": 150}}},
        {"data": {"values": [{}]}, "mark": {"type": "rule", "color": "#000", "strokeWidth": 1.5, "strokeDash": [4, 3]},
         "encoding": {"x": {"datum": 110, "type": "quantitative", "axis": null}, "y": {"datum": 60, "type": "quantitative", "axis": null}, "y2": {"datum": 150}}},
        {"data": {"values": [{}]}, "mark": {"type": "rule", "color": "#707070", "strokeWidth": 2},
         "encoding": {"x": {"datum": -121.8, "type": "quantitative", "axis": null}, "x2": {"datum": 125.6}, "y": {"datum": 46.552, "type": "quantitative", "axis": null}}},
        {"data": {"values": [{}]}, "mark": {"type": "rule", "color": "#000", "strokeWidth": 3, "strokeCap": "square"},
         "encoding": {"x": {"datum": -121.8, "type": "quantitative", "axis": null}, "y": {"datum": 163.448, "type": "quantitative", "axis": null}, "y2": {"datum": 46.552}}}
      ]
    },
    {
      "width": 430, "height": 83,
      "resolve": {"axis": {"x": "independent", "y": "independent"}},
      "layer": [
        {"data": {"name": "e4"}, "mark": {"type": "line", "color": "#7f7f7f", "strokeWidth": 1.6},
         "encoding": {"x": {"field": "t", "type": "quantitative", "scale": {"domain": [-102, 122], "nice": false, "zero": false}, "axis": null},
                      "y": {"field": "v", "type": "quantitative", "scale": {"domain": [0, 30], "nice": false, "zero": false}, "axis": {"values": [0, 10, 20, 30], "grid": true, "labelPadding": 14, "title": "PP4", "titleFontSize": 15.5, "titleFontWeight": "normal", "titleColor": "#000", "titlePadding": 8}}}},
        {"data": {"values": [{}]}, "mark": {"type": "rule", "color": "#000", "strokeWidth": 2},
         "encoding": {"x": {"datum": 0, "type": "quantitative", "axis": null}, "y": {"datum": 0, "type": "quantitative", "axis": null}, "y2": {"datum": 30}}},
        {"data": {"values": [{}]}, "mark": {"type": "rule", "color": "#000", "strokeWidth": 1.5, "strokeDash": [4, 3]},
         "encoding": {"x": {"datum": 110, "type": "quantitative", "axis": null}, "y": {"datum": 0, "type": "quantitative", "axis": null}, "y2": {"datum": 30}}},
        {"data": {"values": [{}]}, "mark": {"type": "rule", "color": "#707070", "strokeWidth": 2},
         "encoding": {"x": {"datum": -134.8, "type": "quantitative", "axis": null}, "x2": {"datum": 128.3}, "y": {"datum": -4.699, "type": "quantitative", "axis": null}}}
      ]
    },
    {
      "width": 430, "height": 83,
      "resolve": {"axis": {"x": "independent", "y": "independent"}},
      "layer": [
        {"data": {"name": "h4"}, "mark": {"type": "line", "color": "#7f7f7f", "strokeWidth": 1.6},
         "encoding": {"x": {"field": "t", "type": "quantitative", "scale": {"domain": [-102, 122], "nice": false, "zero": false}, "axis": null},
                      "y": {"field": "v", "type": "quantitative", "scale": {"domain": [60, 150], "nice": false, "zero": false}, "axis": {"values": [60, 90, 120, 150], "grid": true, "labelPadding": 8, "title": null}}}},
        {"data": {"values": [{}]}, "mark": {"type": "rule", "color": "#000", "strokeWidth": 2},
         "encoding": {"x": {"datum": 0, "type": "quantitative", "axis": null}, "y": {"datum": 60, "type": "quantitative", "axis": null}, "y2": {"datum": 150}}},
        {"data": {"values": [{}]}, "mark": {"type": "rule", "color": "#000", "strokeWidth": 1.5, "strokeDash": [4, 3]},
         "encoding": {"x": {"datum": 110, "type": "quantitative", "axis": null}, "y": {"datum": 60, "type": "quantitative", "axis": null}, "y2": {"datum": 150}}},
        {"data": {"values": [{}]}, "mark": {"type": "rule", "color": "#707070", "strokeWidth": 2},
         "encoding": {"x": {"datum": -121.8, "type": "quantitative", "axis": null}, "x2": {"datum": 125.6}, "y": {"datum": 45.904, "type": "quantitative", "axis": null}}},
        {"data": {"values": [{}]}, "mark": {"type": "rule", "color": "#000", "strokeWidth": 3, "strokeCap": "square"},
         "encoding": {"x": {"datum": -121.8, "type": "quantitative", "axis": null}, "y": {"datum": 164.096, "type": "quantitative", "axis": null}, "y2": {"datum": 45.904}}}
      ]
    },
    {
      "width": 430, "height": 83,
      "resolve": {"axis": {"x": "independent", "y": "independent"}},
      "layer": [
        {"data": {"name": "e5"}, "mark": {"type": "line", "color": "#7f7f7f", "strokeWidth": 1.6},
         "encoding": {"x": {"field": "t", "type": "quantitative", "scale": {"domain": [-102, 122], "nice": false, "zero": false}, "axis": {"values": [-100, -50, 0, 50, 100], "grid": false, "labelFontSize": 12, "labelPadding": 6, "title": "Minutes (relative to start of drill)", "titleFontSize": 13.3, "titleFontWeight": "normal", "titleColor": "#404040", "titlePadding": 4}},
                      "y": {"field": "v", "type": "quantitative", "scale": {"domain": [0, 30], "nice": false, "zero": false}, "axis": {"values": [0, 10, 20, 30], "grid": true, "labelPadding": 14, "title": "PP5", "titleFontSize": 15.5, "titleFontWeight": "normal", "titleColor": "#000", "titlePadding": 8}}}},
        {"data": {"values": [{}]}, "mark": {"type": "rule", "color": "#000", "strokeWidth": 2},
         "encoding": {"x": {"datum": 0, "type": "quantitative", "axis": null}, "y": {"datum": 0, "type": "quantitative", "axis": null}, "y2": {"datum": 30}}},
        {"data": {"values": [{}]}, "mark": {"type": "rule", "color": "#000", "strokeWidth": 1.5, "strokeDash": [4, 3]},
         "encoding": {"x": {"datum": 110, "type": "quantitative", "axis": null}, "y": {"datum": 0, "type": "quantitative", "axis": null}, "y2": {"datum": 30}}}
      ]
    },
    {
      "width": 430, "height": 83,
      "resolve": {"axis": {"x": "independent", "y": "independent"}},
      "layer": [
        {"data": {"name": "h5"}, "mark": {"type": "line", "color": "#7f7f7f", "strokeWidth": 1.6},
         "encoding": {"x": {"field": "t", "type": "quantitative", "scale": {"domain": [-102, 122], "nice": false, "zero": false}, "axis": {"values": [-100, -50, 0, 50, 100], "grid": false, "labelFontSize": 12, "labelPadding": 6, "title": "Minutes (relative to start of drill)", "titleFontSize": 13.3, "titleFontWeight": "normal", "titleColor": "#404040", "titlePadding": 4}},
                      "y": {"field": "v", "type": "quantitative", "scale": {"domain": [60, 150], "nice": false, "zero": false}, "axis": {"values": [60, 90, 120, 150], "grid": true, "labelPadding": 8, "title": null}}}},
        {"data": {"values": [{}]}, "mark": {"type": "rule", "color": "#000", "strokeWidth": 2},
         "encoding": {"x": {"datum": 0, "type": "quantitative", "axis": null}, "y": {"datum": 60, "type": "quantitative", "axis": null}, "y2": {"datum": 150}}},
        {"data": {"values": [{}]}, "mark": {"type": "rule", "color": "#000", "strokeWidth": 1.5, "strokeDash": [4, 3]},
         "encoding": {"x": {"datum": 110, "type": "quantitative", "axis": null}, "y": {"datum": 60, "type": "quantitative", "axis": null}, "y2": {"datum": 150}}},
        {"data": {"values": [{}]}, "mark": {"type": "rule", "color": "#000", "strokeWidth": 3, "strokeCap": "square"},
         "encoding": {"x": {"datum": -121.8, "type": "quantitative", "axis": null}, "y": {"datum": 164.096, "type": "quantitative", "axis": null}, "y2": {"datum": 16.627}}}
      ]
    },
    {
      "width": 430,
      "height": 149,
      "data": {"name": "caption"},
      "encoding": {
        "x": {"datum": 0, "type": "quantitative", "scale": {"domain": [0, 1]}, "axis": null},
        "y": {"field": "line", "type": "quantitative", "scale": {"domain": [-1.652, 5.045], "nice": false, "zero": false, "reverse": true}, "axis": null},
        "text": {"field": "text"}
      },
      "layer": [
        {"transform": [{"filter": "datum.part == 'head'"}],
         "mark": {"type": "text", "align": "left", "baseline": "alphabetic", "dx": -228, "font": "Liberation Sans", "fontSize": 17.3, "fontWeight": "bold", "color": "#222"}},
        {"transform": [{"filter": "datum.part == 'rest'"}],
         "mark": {"type": "text", "align": "left", "baseline": "alphabetic", "dx": -120, "font": "Liberation Sans", "fontSize": 17.3, "color": "#404040"}},
        {"transform": [{"filter": "datum.part == 'body'"}],
         "mark": {"type": "text", "align": "left", "baseline": "alphabetic", "dx": -228, "font": "Liberation Sans", "fontSize": 17.3, "color": "#404040"}}
      ]
    }
  ],
  "config": {
    "view": {"stroke": null},
    "font": "Lato",
    "axis": {"domain": false, "ticks": false, "labelFont": "Lato", "labelFontSize": 11.5, "labelColor": "#595959", "gridColor": "#d9d9d9", "gridWidth": 1, "titleFont": "Lato"}
  }
}
